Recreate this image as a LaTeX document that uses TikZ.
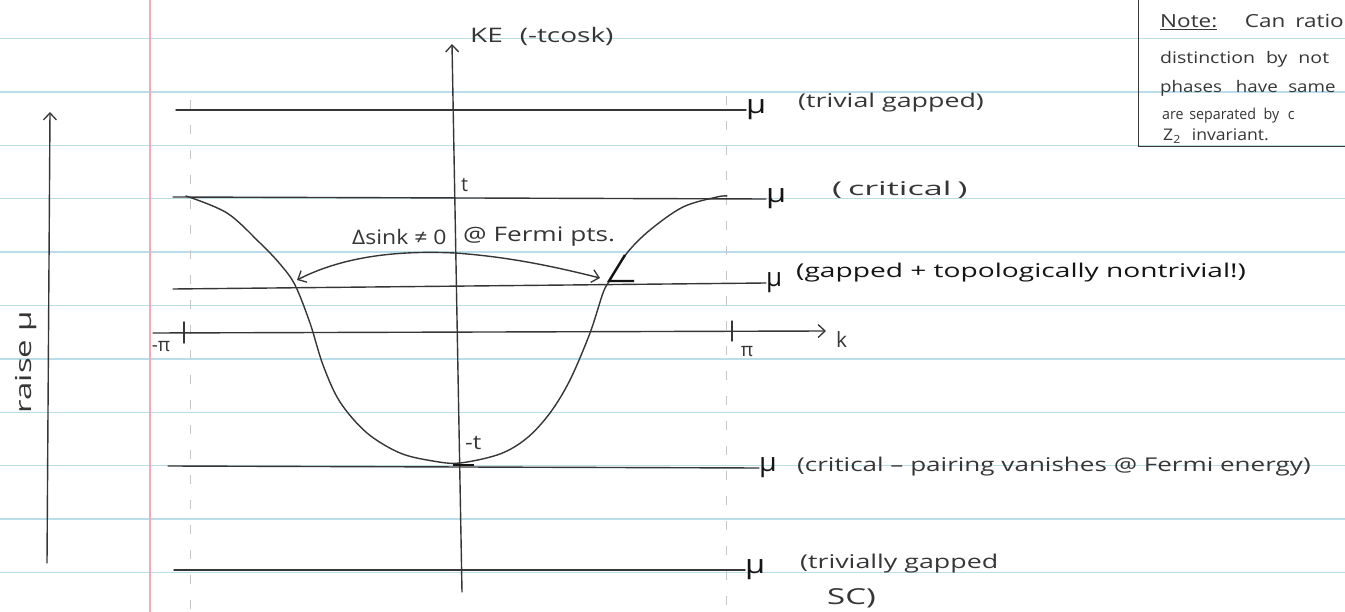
\documentclass[tikz,border=0pt]{standalone}
\usepackage{fontspec}
\setmainfont{Open Sans}
\usetikzlibrary{arrows.meta}
\definecolor{pencil}{HTML}{363636}
\definecolor{ink}{HTML}{141414}
\definecolor{ruleblue}{HTML}{BBDDEA}
\definecolor{marginred}{HTML}{F3A9B9}
\definecolor{faint}{HTML}{C6C6C6}
\newcommand{\hw}[2]{\scalebox{#1}[1]{#2}}
\begin{document}
\begin{tikzpicture}[x=1pt,y=-1pt,
  pen/.style={draw=pencil, line width=1.4pt, line cap=round},
  barb/.style={-{Straight Barb[length=7pt,width=13pt,line width=1.3pt]}},
  dbarb/.style={{Straight Barb[length=7pt,width=13pt,line width=1.3pt]}-{Straight Barb[length=7pt,width=13pt,line width=1.3pt]}},
  lbl/.style={text=pencil, font=\fontsize{19}{23}\selectfont, inner sep=0pt, anchor=west},
  mu/.style={text=ink, font=\fontsize{26}{30}\selectfont, inner sep=0pt, anchor=west},
  small/.style={text=pencil, font=\fontsize{19}{22}\selectfont, inner sep=0pt},
  notetxt/.style={text=pencil, font=\fontsize{16}{19}\selectfont, inner sep=0pt, anchor=base west},
  ruled/.style={draw=ruleblue, line width=1.5pt},
  marginline/.style={draw=marginred, line width=1.2pt},
  guide/.style={draw=faint, line width=1pt, dash pattern=on 9pt off 16pt},
  thickmark/.style={draw=ink, line width=2.4pt}]
\useasboundingbox (0,0) rectangle (1345,612);
\begin{scope}
\clip (0,0) rectangle (1345,612);
\fill[white] (0,0) rectangle (1345,612);
% notebook paper
\foreach \i in {0,...,10} \draw[ruled] (0,{38.5+53.4*\i}) -- (1345,{38.5+53.4*\i});
\draw[marginline] (150,0) -- (150,612);
% faint guides at -pi and pi
\draw[guide] (190,100) -- (190,612);
\draw[guide] (726,96) -- (726,612);

% energy axis
\coordinate (ke0) at (462,592);
\coordinate (ke1) at (452,44);
\draw[pen, barb] (ke0) -- (ke1);
\node[lbl, anchor=base west, font=\fontsize{20}{24}\selectfont] (ke) at (470,43) {\hw{1.4}{KE\hspace{12pt}(-tcosk)}};

% raise mu arrow
\coordinate (r0) at (47,563);
\coordinate (r1) at (50,112);
\draw[pen, barb] (r0) -- (r1);
\node[lbl, anchor=center, rotate=90, font=\fontsize{22}{26}\selectfont] (raise) at (26,362) {\hw{1.5}{raise μ}};

% k axis
\coordinate (k0) at (153,333);
\coordinate (k1) at (826,331);
\draw[pen, barb] (k0) -- (k1);
\node[lbl, font=\fontsize{21}{24}\selectfont] (klab) at (836,340) {k};
\draw[pen] (184,322) -- (184,343);
\draw[pen] (732,321) -- (732,341);
\node[small] (mpi) at (161,347) {-π};
\node[small] (ppi) at (747,352) {π};

% chemical potential levels
\coordinate (s1) at (176,110);
\node[mu] (mu1) at (746,110) {\hw{1.25}{μ}};
\node[lbl] (t1) at (798,103) {\hw{1.41}{(trivial gapped)}};
\draw[pen] (s1) -- (mu1.west);

\coordinate (s2) at (173,197);
\node[mu] (mu2) at (766,199) {\hw{1.25}{μ}};
\node[lbl] (t2) at (832,190) {\hw{1.8}{(\,critical\,)}};
\draw[pen] (s2) -- (mu2.west);

\coordinate (s3) at (173,289);
\node[mu] (mu3) at (766,283) {\hw{1.0}{μ}};
\node[lbl, text=ink] (t3) at (796,273) {\hw{1.48}{(gapped + topologically nontrivial!)}};
\draw[pen] (s3) -- (mu3.west);

\coordinate (s4) at (168,466);
\node[mu] (mu4) at (759,468) {\hw{1.1}{μ}};
\node[lbl] (t4) at (797,467) {\hw{1.37}{(critical – pairing vanishes @ Fermi energy)}};
\draw[pen] (s4) -- (mu4.west);

\coordinate (s5) at (174,570);
\node[mu] (mu5) at (745,570) {\hw{1.25}{μ}};
\node[lbl] (t5) at (800,564) {\hw{1.41}{(trivially gapped}};
\node[lbl, font=\fontsize{22}{26}\selectfont] (t5b) at (827,598) {\hw{1.5}{SC)}};
\draw[pen] (s5) -- (mu5.west);

% band  -t cos k
\draw[pen] plot[smooth, tension=0.55] coordinates {
 (186,196) (227,213) (260,243) (280,264) (295,285) (310,323) (323,365)
 (340,402) (367,433) (400,453) (433,461) (460,463) (500,454) (527,438)
 (550,413) (570,380) (590,333) (603,293) (610,280) (627,253) (650,230)
 (683,207) (717,197) (727,196)};
\node[lbl, font=\fontsize{20}{24}\selectfont] (tlab) at (461,185) {t};
\node[lbl, font=\fontsize{20}{24}\selectfont] (mtlab) at (465,443) {\hw{1.2}{-t}};
\draw[thickmark] (453,465) -- (474,465);

% Fermi points
\coordinate (fl) at (297,280);
\coordinate (fr) at (600,278);
\draw[pen, dbarb] (fl) .. controls (340,258) and (392,250) .. (455,253)
                      .. controls (512,257) and (560,268) .. (fr);
\draw[thickmark] (625,255) -- (609,281) -- (634,281);
\node[lbl, font=\fontsize{20}{24}\selectfont] (dsk) at (352,237) {\hw{1.15}{Δsink ≠ 0}};
\node[lbl, font=\fontsize{20}{24}\selectfont] (fpts) at (463,237) {\hw{1.31}{@ Fermi pts.}};

% note box
\draw[draw=pencil, line width=1pt] (1138,-5) rectangle (1352,147);
\node[notetxt, font=\fontsize{18}{22}\selectfont] (n1) at (1160,28) {\hw{1.25}{\underline{Note:}\hspace{22pt}Can\hspace{8pt}ratio}};
\node[notetxt] (n2) at (1160,64) {\hw{1.22}{distinction\hspace{9pt}by\hspace{9pt}not}};
\node[notetxt] (n3) at (1160,93) {\hw{1.17}{phases\hspace{12pt}have\hspace{9pt}same}};
\node[notetxt, font=\fontsize{15}{18}\selectfont] (n4) at (1162,120) {\hw{0.95}{are\hspace{6pt}separated\hspace{8pt}by\hspace{9pt}c}};
\node[notetxt] (n5) at (1163,141) {\hw{1.1}{Z\textsubscript{2}\hspace{10pt}invariant.}};
\end{scope}
\end{tikzpicture}
\end{document}
